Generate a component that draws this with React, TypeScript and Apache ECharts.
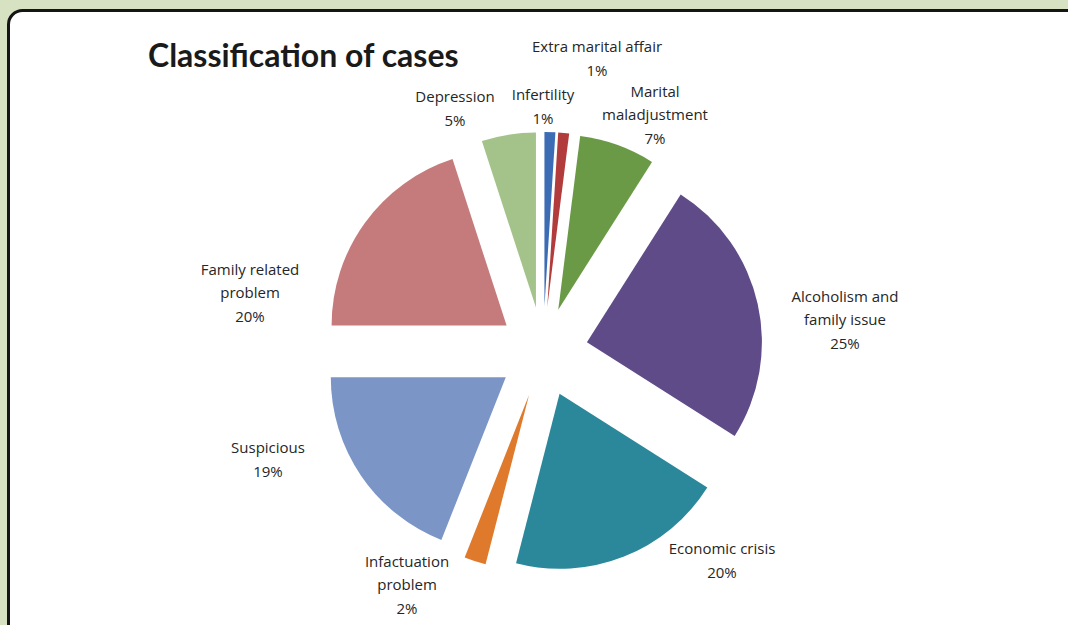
import React, { useEffect, useRef } from "react";
import * as echarts from "echarts";

const TITLE = "Classification of cases";
const CATEGORIES = [
  "Infertility",
  "Extra marital affair",
  "Marital\nmaladjustment",
  "Alcoholism and\nfamily issue",
  "Economic crisis",
  "Infactuation\nproblem",
  "Suspicious",
  "Family related\nproblem",
  "Depression",
];
const VALUES = [1, 1, 7, 25, 20, 2, 19, 20, 5];
const COLORS = [
  "#3c6db4",
  "#b23b3b",
  "#6b9a46",
  "#5f4b88",
  "#2b879a",
  "#df7a2c",
  "#7b95c6",
  "#c57b7b",
  "#a4c38a",
];
// label block centres (layout only, as Excel's "best fit" placed them)
const LABEL_CENTERS: [number, number][] = [
  [543, 106],
  [597, 58],
  [655, 114],
  [845, 319],
  [722, 560],
  [407, 584],
  [268, 459],
  [250, 292],
  [455, 108],
];

export default function App() {
  const ref = useRef<HTMLDivElement>(null);
  useEffect(() => {
    document.body.style.margin = "0";
    const chart = echarts.init(ref.current!, null, { renderer: "svg" });
    const total = VALUES.reduce((a, b) => a + b, 0);
    const labelTexts = CATEGORIES.map(
      (name, i) => `${name}\n${Math.round((VALUES[i] / total) * 100)}%`
    );
    chart.setOption({
      animation: false,
      backgroundColor: "#d7e2c3",
      graphic: [
        {
          type: "rect",
          z: -10,
          shape: { x: 8.5, y: 10.5, width: 1080, height: 640, r: 14 },
          style: { fill: "#ffffff", stroke: "#151515", lineWidth: 3 },
        },
        ...labelTexts.map((t, i) => ({
          type: "text",
          z: 10,
          x: LABEL_CENTERS[i][0],
          y: LABEL_CENTERS[i][1],
          style: {
            text: t,
            align: "center",
            verticalAlign: "middle",
            fontFamily: "Open Sans",
            fontSize: 15,
            fontWeight: 500,
            lineHeight: 23.5,
            fill: "#262626",
          },
        })),
      ],
      title: {
        text: TITLE,
        left: 143,
        top: 33,
        textStyle: {
          fontFamily: "Lato",
          fontWeight: "bold",
          fontSize: 32,
          color: "#1a1a1a",
        },
      },
      series: [
        {
          type: "pie",
          center: [543, 352],
          radius: 175,
          startAngle: 90,
          clockwise: true,
          selectedMode: "multiple",
          selectedOffset: 45,
          emphasis: { disabled: true },
          itemStyle: { borderWidth: 0 },
          label: { show: false },
          labelLine: { show: false },
          data: CATEGORIES.map((name, i) => ({
            name,
            value: VALUES[i],
            selected: true,
            itemStyle: { color: COLORS[i] },
          })),
        },
      ],
    });
    return () => chart.dispose();
  }, []);
  return <div ref={ref} style={{ width: 1068, height: 625 }} />;
}
